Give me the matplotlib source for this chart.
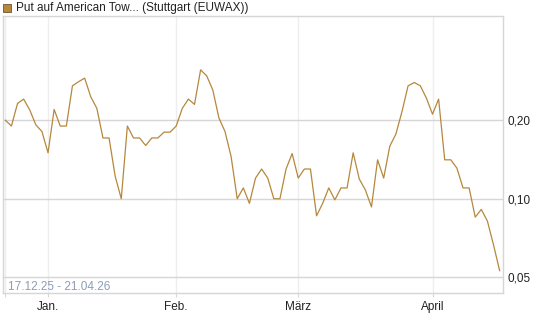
import matplotlib.pyplot as plt
from matplotlib.patches import Rectangle

# Kurs pro Handelstag (17.12.25 - 21.04.26)
kurs = [0.200, 0.190, 0.232, 0.241, 0.219, 0.192, 0.181, 0.150, 0.220, 0.190,
        0.190, 0.271, 0.281, 0.290, 0.246, 0.222, 0.171, 0.171, 0.122, 0.100,
        0.190, 0.171, 0.171, 0.160, 0.171, 0.171, 0.180, 0.180, 0.190, 0.222,
        0.241, 0.230, 0.312, 0.296, 0.261, 0.204, 0.181, 0.145, 0.100, 0.110,
        0.096, 0.120, 0.130, 0.120, 0.100, 0.100, 0.130, 0.149, 0.120, 0.130,
        0.130, 0.086, 0.096, 0.110, 0.099, 0.110, 0.110, 0.150, 0.119, 0.108,
        0.093, 0.141, 0.120, 0.159, 0.177, 0.216, 0.271, 0.279, 0.271, 0.243,
        0.211, 0.241, 0.141, 0.141, 0.131, 0.110, 0.110, 0.085, 0.091, 0.082,
        0.0665, 0.053]

monate = ['Jan.', 'Feb.', 'März', 'April']
monat_idx = [7, 28, 48, 70]   # erster Handelstag im Monat
y_ticks = [0.05, 0.10, 0.20]
y_labels = ['0,05', '0,10', '0,20']

farbe = '#b5883c'
plt.rcParams['font.family'] = ['Liberation Sans', 'DejaVu Sans']

fig = plt.figure(figsize=(5.45, 3.27), dpi=100)
ax = fig.add_axes([3/545, 34/327, 500.3/545, 277/327])

x = list(range(len(kurs)))
ax.plot(x, kurs, color=farbe, linewidth=0.9)

ax.set_yscale('log')
ax.set_ylim(0.0435, 0.502)
ax.set_xlim(-0.38, 81.6)

ax.set_yticks(y_ticks)
ax.set_yticklabels(y_labels)
ax.yaxis.set_minor_locator(plt.NullLocator())
ax.yaxis.tick_right()
ax.tick_params(axis='y', length=0, pad=3, labelsize=8.5, labelcolor='#222222')

ax.set_xticks([0] + monat_idx)
ax.set_xticklabels([''] + monate)
ax.tick_params(axis='x', length=3, color='#d8d8d8', pad=3, labelsize=8.5, labelcolor='#222222')

ax.grid(axis='y', color='#d6d6d6', linewidth=1)
ax.grid(axis='x', color='#eeeeee', linewidth=1)
ax.set_axisbelow(True)

for s in ax.spines.values():
    s.set_color('#d6d6d6')
    s.set_linewidth(1)

ax.text(5/500, 6/277, '17.12.25 - 21.04.26', transform=ax.transAxes,
        fontsize=8.5, color='#8c9db4', va='center', ha='left')

# Legende oben
fig.patches.append(Rectangle((3/545, 1 - 12/327), 8/545, 8/327, transform=fig.transFigure,
                             facecolor=farbe, edgecolor='#6b5330', linewidth=0.6))
fig.text(16/545, 1 - 8/327, 'Put auf American Tow... (Stuttgart (EUWAX))',
         fontsize=8.5, color='#222222', va='center', ha='left')

fig.savefig('out.png', dpi=100)
